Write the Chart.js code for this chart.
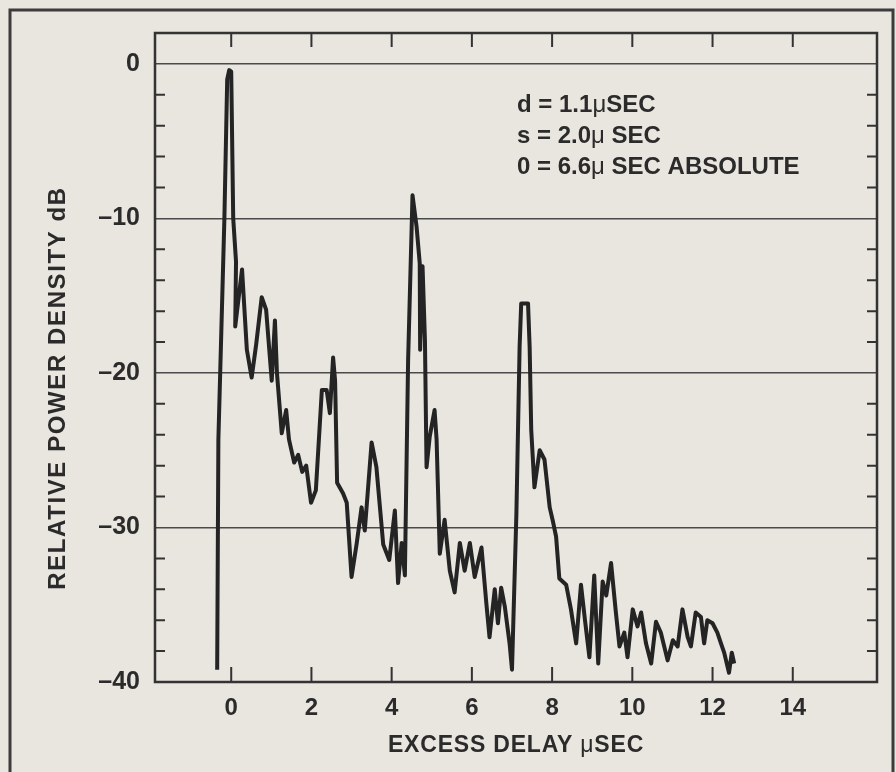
<!DOCTYPE html>
<html>
<head>
<meta charset="utf-8">
<script src="https://cdn.jsdelivr.net/npm/chart.js@4.4.0/dist/chart.umd.min.js"></script>
<style>
  html, body { margin: 0; padding: 0; background: #e9e5df; }
</style>
</head>
<body>
<canvas id="chart" width="896" height="772"></canvas>
<script>
// excess delay (μsec) and relative power density (dB)
const delay = [
  -0.35, -0.32, -0.17, -0.10, -0.05, 0.00, 0.05, 0.12, 0.10, 0.27,
  0.39, 0.51, 0.62, 0.76, 0.87, 1.01, 1.09, 1.14, 1.26, 1.37,
  1.44, 1.57, 1.67, 1.77, 1.87, 1.99, 2.11, 2.26, 2.38, 2.46,
  2.54, 2.59, 2.64, 2.79, 2.88, 3.00, 3.13, 3.25, 3.33, 3.50,
  3.62, 3.79, 3.94, 4.08, 4.16, 4.25, 4.33, 4.41, 4.52, 4.62,
  4.70, 4.71, 4.77, 4.83, 4.87, 4.95, 5.07, 5.12, 5.20, 5.32,
  5.45, 5.57, 5.70, 5.82, 5.95, 6.07, 6.24, 6.36, 6.44, 6.57,
  6.65, 6.73, 6.82, 6.94, 7.00, 7.11, 7.19, 7.23, 7.40, 7.44,
  7.48, 7.56, 7.69, 7.81, 7.94, 8.02, 8.10, 8.18, 8.35, 8.47,
  8.60, 8.72, 8.82, 8.93, 9.05, 9.15, 9.26, 9.35, 9.47, 9.59,
  9.68, 9.80, 9.88, 10.01, 10.13, 10.22, 10.34, 10.47, 10.59, 10.71,
  10.88, 11.01, 11.13, 11.25, 11.38, 11.46, 11.58, 11.71, 11.79, 11.87,
  12.00, 12.12, 12.21, 12.29, 12.41, 12.48, 12.54
];
const power = [
  -39.2, -24.3, -10.0, -1.0, -0.4, -0.5, -10.0, -12.8, -17.0, -13.3,
  -18.5, -20.3, -18.2, -15.1, -15.9, -20.5, -16.6, -20.0, -23.9, -22.4,
  -24.3, -25.8, -25.3, -26.4, -26.0, -28.4, -27.6, -21.1, -21.1, -22.6,
  -19.0, -20.5, -27.1, -27.8, -28.4, -33.2, -31.0, -28.7, -30.2, -24.5,
  -26.1, -31.1, -32.1, -28.9, -33.6, -31.0, -33.1, -19.2, -8.5, -10.5,
  -12.9, -18.5, -13.1, -17.9, -26.1, -24.1, -22.4, -24.3, -31.7, -29.5,
  -32.8, -34.2, -31.0, -32.8, -31.0, -33.2, -31.3, -34.9, -37.1, -34.0,
  -36.2, -33.9, -35.1, -37.5, -39.2, -29.1, -18.3, -15.5, -15.5, -18.3,
  -23.7, -27.4, -25.0, -25.6, -28.7, -29.6, -30.6, -33.3, -33.7, -35.3,
  -37.5, -33.7, -36.0, -38.4, -33.1, -38.8, -33.5, -34.4, -32.3, -35.5,
  -37.7, -36.8, -38.4, -35.3, -36.4, -35.5, -37.5, -38.8, -36.1, -36.8,
  -38.6, -37.3, -37.7, -35.3, -37.1, -37.7, -35.5, -35.8, -37.5, -36.0,
  -36.2, -36.8, -37.5, -38.1, -39.4, -38.1, -38.8
];

const xTickValues = [0, 2, 4, 6, 8, 10, 12, 14];
const yTickValues = [0, -10, -20, -30, -40];
const yMinorTicks = [-2, -4, -6, -8, -12, -14, -16, -18, -22, -24, -26, -28,
                     -32, -34, -36, -38];
const notes  = ['d = 1.1μSEC', 's = 2.0μ SEC', '0 = 6.6μ SEC ABSOLUTE'];
const xTitle = 'EXCESS DELAY μSEC';
const yTitle = 'RELATIVE POWER DENSITY dB';

const INK  = '#2b2b2b';
const FACE = '"Liberation Sans", Arial, Helvetica, sans-serif';

// bold text, but the μ in the old scan is set in a thin symbol face
function drawRuns(ctx, text, x, y, size, align, spacing) {
  ctx.letterSpacing = (spacing || 0) + 'px';
  const parts = text.split('μ');
  const runs = [];
  parts.forEach((p, i) => {
    if (i > 0) runs.push(['μ', 'normal']);
    if (p) runs.push([p, 'bold']);
  });
  const widths = runs.map(([t, w]) => {
    ctx.font = `${w} ${size}px ${FACE}`;
    return ctx.measureText(t).width;
  });
  const total = widths.reduce((s, w) => s + w, 0);
  let cx = align === 'center' ? x - total / 2 : x;
  ctx.textAlign = 'left';
  runs.forEach(([t, w], i) => {
    ctx.font = `${w} ${size}px ${FACE}`;
    ctx.fillText(t, cx, y);
    cx += widths[i];
  });
  ctx.letterSpacing = '0px';
}

const framePlugin = {
  id: 'frame',
  beforeDraw(chart) {
    const ctx = chart.ctx;
    ctx.save();
    ctx.fillStyle = '#e9e5df';
    ctx.fillRect(0, 0, chart.width, chart.height);
    ctx.strokeStyle = '#3c3c3c';
    ctx.lineWidth = 3;
    ctx.strokeRect(10, 10, 883, 820);
    ctx.restore();
  },
  afterDraw(chart) {
    const {ctx, chartArea: a, scales: {x, y}} = chart;
    ctx.save();
    ctx.strokeStyle = '#333';
    ctx.lineWidth = 2;
    ctx.beginPath();
    xTickValues.forEach(v => {
      const px = x.getPixelForValue(v);
      ctx.moveTo(px, a.bottom); ctx.lineTo(px, a.bottom - 15);
      ctx.moveTo(px, a.top);    ctx.lineTo(px, a.top + 14);
    });
    yMinorTicks.forEach(v => {
      const py = y.getPixelForValue(v);
      ctx.moveTo(a.left, py);  ctx.lineTo(a.left + 10, py);
      ctx.moveTo(a.right, py); ctx.lineTo(a.right - 10, py);
    });
    ctx.stroke();

    ctx.lineWidth = 2.5;
    ctx.strokeRect(a.left, a.top, a.right - a.left, a.bottom - a.top);

    ctx.fillStyle = INK;
    ctx.textBaseline = 'alphabetic';
    notes.forEach((t, i) => drawRuns(ctx, t, 517, 112 + i * 31, 24, 'left', 0));

    ctx.textBaseline = 'middle';
    drawRuns(ctx, xTitle, (a.left + a.right) / 2, 746, 23, 'center', 0.8);

    ctx.translate(58, 388);
    ctx.rotate(-Math.PI / 2);
    drawRuns(ctx, yTitle, 0, 0, 24, 'center', 1.6);
    ctx.restore();
  }
};

new Chart(document.getElementById('chart'), {
  type: 'line',
  data: {
    datasets: [{
      data: delay.map((d, i) => ({x: d, y: power[i]})),
      borderColor: '#242424',
      borderWidth: 4,
      borderJoinStyle: 'round',
      pointRadius: 0,
      tension: 0,
      fill: false
    }]
  },
  options: {
    responsive: false,
    animation: false,
    devicePixelRatio: 1,
    layout: { padding: { top: 33, right: 19, left: 0, bottom: 0 } },
    plugins: { legend: { display: false }, tooltip: { enabled: false } },
    scales: {
      x: {
        type: 'linear',
        min: -1.9,
        max: 16.1,
        afterBuildTicks: s => { s.ticks = xTickValues.map(v => ({value: v})); },
        afterFit: s => { s.height = 90; },
        grid: { display: false, drawTicks: false },
        border: { display: false },
        ticks: {
          padding: 12,
          autoSkip: false,
          maxRotation: 0,
          color: INK,
          font: { family: FACE, size: 24, weight: 'bold' }
        }
      },
      y: {
        type: 'linear',
        min: -40,
        max: 2,
        afterBuildTicks: s => { s.ticks = yTickValues.map(v => ({value: v})); },
        afterFit: s => { s.width = 155; },
        grid: {
          color: c => (c.tick && c.tick.value > -40 ? '#4a4a4a' : 'rgba(0,0,0,0)'),
          lineWidth: 1.5,
          drawTicks: false
        },
        border: { display: false },
        ticks: {
          padding: 15,
          color: INK,
          font: { family: FACE, size: 25, weight: 'bold' },
          callback: v => (v < 0 ? '–' + Math.abs(v) : String(v))
        }
      }
    }
  },
  plugins: [framePlugin]
});
</script>
</body>
</html>
